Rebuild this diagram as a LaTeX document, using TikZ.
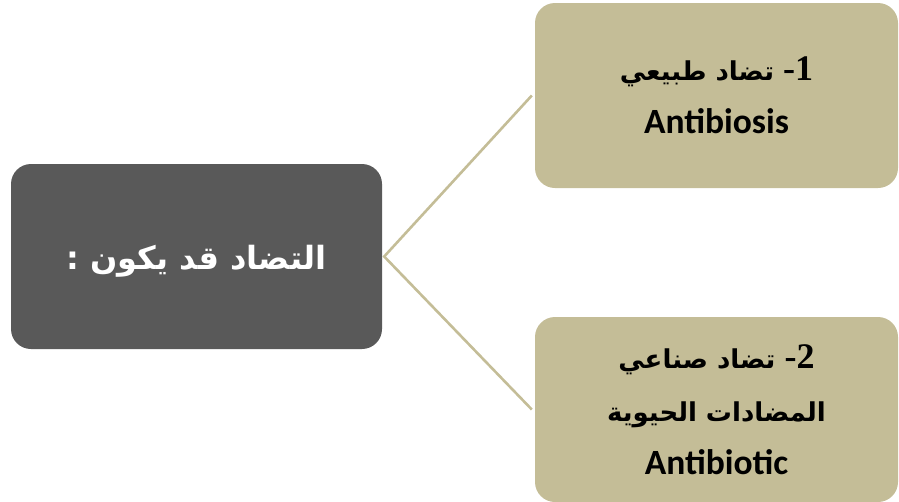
\documentclass[tikz,border=0pt]{standalone}
\usepackage{fontspec}
\TeXXeTstate=1
\newfontfamily\arabicfont[Script=Arabic]{DejaVu Sans}
\newfontfamily\latinfont{Carlito}
\newfontfamily\numfont{Liberation Serif}
\definecolor{darkbox}{HTML}{595959}
\definecolor{tanbox}{HTML}{C4BD97}
\tikzset{
  px/.style={x=1pt,y=-1pt},
  mainbox/.style={rectangle,rounded corners=20pt,fill=darkbox,text=white,minimum width=371pt,minimum height=185pt,inner sep=0pt,align=center},
  itembox/.style={rectangle,rounded corners=20pt,fill=tanbox,text=black,minimum width=363pt,minimum height=185pt,inner sep=0pt,align=center,font=\fontsize{30}{53}\selectfont},
  link/.style={draw=tanbox,line width=2.6pt}
}
\begin{document}
\begin{tikzpicture}[px]
\useasboundingbox (0,0) rectangle (899,501);
\node[mainbox] (main) at (196.5,256.5) {\raisebox{-13pt}[0pt][0pt]{\arabicfont\bfseries\fontsize{32}{38}\selectfont\beginR التضاد قد يكون :\endR}};
\node[itembox] (top) at (716.5,95.5) {{\arabicfont\bfseries\fontsize{26}{53}\selectfont\beginR تضاد طبيعي\endR} {\numfont\bfseries\fontsize{36}{53}\selectfont -1}\\
{\latinfont\bfseries\fontsize{35.5}{53}\selectfont Antibiosis}};
\node[itembox] (bot) at (716.5,409.5) {{\arabicfont\bfseries\fontsize{26}{53}\selectfont\beginR تضاد صناعي\endR} {\numfont\bfseries\fontsize{36}{53}\selectfont -2}\\
{\arabicfont\bfseries\fontsize{26}{53}\selectfont\beginR المضادات الحيوية\endR}\\
{\latinfont\bfseries\fontsize{35.5}{53}\selectfont Antibiotic}};
\draw[link] ([xshift=-3pt]top.west) -- ([xshift=2pt]main.east) -- ([xshift=-3pt]bot.west);
\end{tikzpicture}
\end{document}
